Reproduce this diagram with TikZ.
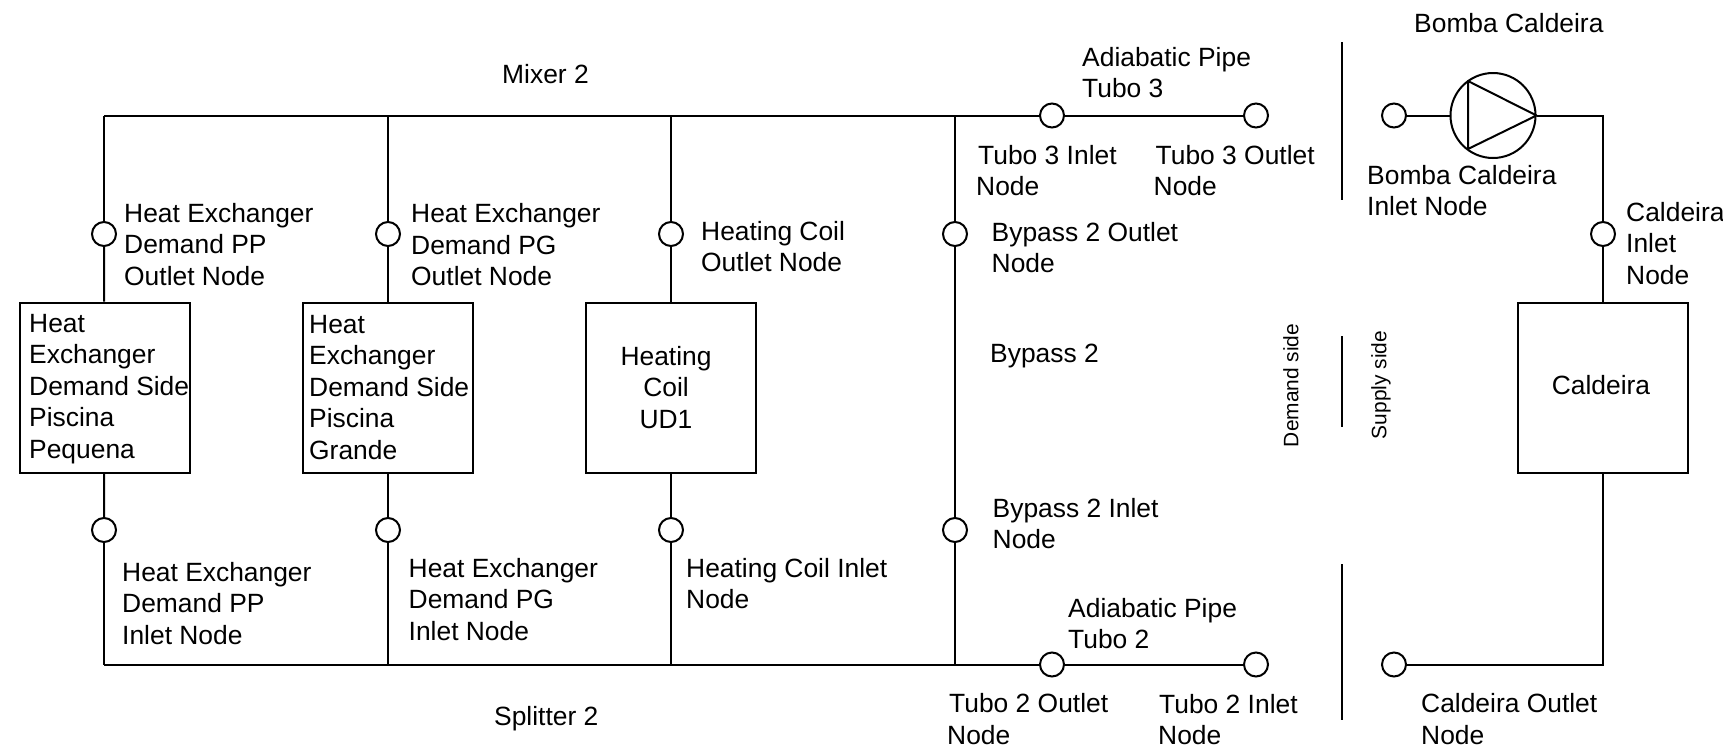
\documentclass[tikz,border=0pt]{standalone}
\usepackage{fontspec}
\setmainfont{Liberation Sans}
\newcommand{\mlines}[1]{\begin{tabular}[t]{@{}l@{}}#1\end{tabular}}
\newcommand{\clines}[1]{\begin{tabular}[t]{@{}c@{}}#1\end{tabular}}
\tikzset{
  x=1pt,y=-1pt,
  every node/.style={font=\fontsize{26.4}{31.5}\selectfont,text=black},
  pipe/.style={line width=2pt,draw=black},
  txt/.style={inner sep=0pt,anchor=base west},
  ctxt/.style={inner sep=0pt,anchor=base},
  smalltxt/.style={inner sep=0pt,rotate=90,font=\fontsize{20.9}{25}\selectfont},
  portnode/.style={circle,draw=black,fill=white,line width=2pt,minimum size=24pt,inner sep=0pt},
  unitbox/.style={rectangle,draw=black,fill=white,line width=2pt,minimum width=170pt,minimum height=170pt,inner sep=0pt},
  pumpnode/.style={circle,draw=black,fill=white,line width=2pt,minimum size=85pt,inner sep=0pt},
}
\begin{document}
\begin{tikzpicture}
\useasboundingbox (0,0) rectangle (1723,750);
% junctions
\coordinate (t1) at (104,115.5); \coordinate (t2) at (388,115.5); \coordinate (t3) at (671,115.5); \coordinate (t4) at (955,115.5);
\coordinate (b1) at (104,664.5); \coordinate (b2) at (388,664.5); \coordinate (b3) at (671,664.5); \coordinate (b4) at (955,664.5);
\coordinate (pc) at (1603,115.5); \coordinate (cc) at (1603,664.5);
\coordinate (s1a) at (1342,42); \coordinate (s1b) at (1342,200);
\coordinate (s2a) at (1342,336); \coordinate (s2b) at (1342,427);
\coordinate (s3a) at (1342,564); \coordinate (s3b) at (1342,720);
% connectors drawn first, shapes on top
\node[unitbox] (hx1) at (104.5,387.5) {};
\node[unitbox] (hx2) at (388,387.5) {};
\node[unitbox] (coil) at (671,387.5) {};
\node[unitbox] (cald) at (1603,387.5) {};
\node[pumpnode] (pump) at (1493,115.5) {};
\node[portnode] (o1) at (104,234) {};
\node[portnode] (o2) at (388,234) {};
\node[portnode] (o3) at (671,234) {};
\node[portnode] (o4) at (955,234) {};
\node[portnode] (i1) at (104,530) {};
\node[portnode] (i2) at (388,530) {};
\node[portnode] (i3) at (671,530) {};
\node[portnode] (i4) at (955,530) {};
\node[portnode] (p3i) at (1052,115.5) {};
\node[portnode] (p3o) at (1256,115.5) {};
\node[portnode] (p2o) at (1052,664.5) {};
\node[portnode] (p2i) at (1256,664.5) {};
\node[portnode] (bi) at (1394,115.5) {};
\node[portnode] (ci) at (1603,234) {};
\node[portnode] (co) at (1394,664.5) {};
% pipes
\draw[pipe] (t1) -- (p3i); \draw[pipe] (p3i) -- (p3o);
\draw[pipe] (b1) -- (p2o); \draw[pipe] (p2o) -- (p2i);
\draw[pipe] (t1) -- (o1); \draw[pipe] (o1) -- (hx1); \draw[pipe] (hx1) -- (i1); \draw[pipe] (i1) -- (b1);
\draw[pipe] (t2) -- (o2); \draw[pipe] (o2) -- (hx2); \draw[pipe] (hx2) -- (i2); \draw[pipe] (i2) -- (b2);
\draw[pipe] (t3) -- (o3); \draw[pipe] (o3) -- (coil); \draw[pipe] (coil) -- (i3); \draw[pipe] (i3) -- (b3);
\draw[pipe] (t4) -- (o4); \draw[pipe] (o4) -- (i4); \draw[pipe] (i4) -- (b4);
\draw[pipe] (bi) -- (pump);
\draw[pipe] (pump.east) -- (pc) -- (ci); \draw[pipe] (ci) -- (cald);
\draw[pipe] (cald) -- (cc) -- (co);
% pump triangle
\draw[pipe,line join=round] (pump.east) -- (1468,81) -- (1468,149) -- cycle;
% side separators
\draw[pipe] (s1a) -- (s1b);
\draw[pipe] (s2a) -- (s2b);
\draw[pipe] (s3a) -- (s3b);
% box texts
\node[txt] (tb1) at (29,332) {\mlines{Heat\\Exchanger\\Demand Side\\Piscina\\Pequena}};
\node[txt] (tb2) at (309,333) {\mlines{Heat\\Exchanger\\Demand Side\\Piscina\\Grande}};
\node[ctxt] (tb3) at (666,365) {\clines{Heating\\Coil\\UD1}};
\node[ctxt] (tb4) at (1601,394) {Caldeira};
% labels
\node[txt] (l1) at (502,83) {Mixer 2};
\node[txt] (l2) at (1082,66) {\mlines{Adiabatic Pipe\\Tubo 3}};
\node[txt] (l3) at (1414,32) {Bomba Caldeira};
\node[txt] (l4) at (978,164) {\mlines{Tubo 3 Inlet\\\hspace*{-2pt}Node}};
\node[txt] (l5) at (1155.5,164) {\mlines{Tubo 3 Outlet\\\hspace*{-2pt}Node}};
\node[txt] (l6) at (1367,184) {\mlines{Bomba Caldeira\\Inlet Node}};
\node[txt] (l7) at (1626,221) {\mlines{Caldeira\\Inlet\\Node}};
\node[txt] (l8) at (124,222) {\mlines{Heat Exchanger\\Demand PP\\Outlet Node}};
\node[txt] (l9) at (411,222.5) {\mlines{Heat Exchanger\\Demand PG\\Outlet Node}};
\node[txt] (l10) at (701,240) {\mlines{Heating Coil\\Outlet Node}};
\node[txt] (l11) at (991.5,241) {\mlines{Bypass 2 Outlet\\Node}};
\node[txt] (l12) at (990,362) {Bypass 2};
\node[txt] (l13) at (992.5,517) {\mlines{Bypass 2 Inlet\\Node}};
\node[txt] (l14) at (122,581) {\mlines{Heat Exchanger\\Demand PP\\Inlet Node}};
\node[txt] (l15) at (408.5,577) {\mlines{Heat Exchanger\\Demand PG\\Inlet Node}};
\node[txt] (l16) at (686,577) {\mlines{Heating Coil Inlet\\Node}};
\node[txt] (l17) at (1068,617) {\mlines{Adiabatic Pipe\\Tubo 2}};
\node[txt] (l18) at (494,725) {Splitter 2};
\node[txt] (l19) at (949,712.5) {\mlines{Tubo 2 Outlet\\\hspace*{-2pt}Node}};
\node[txt] (l20) at (1159,713) {\mlines{Tubo 2 Inlet\\\hspace*{-1pt}Node}};
\node[txt] (l21) at (1421,712.5) {\mlines{Caldeira Outlet\\Node}};
\node[smalltxt] (l22) at (1291,385.5) {Demand side};
\node[smalltxt] (l23) at (1381,385) {Supply side};
\end{tikzpicture}
\end{document}
